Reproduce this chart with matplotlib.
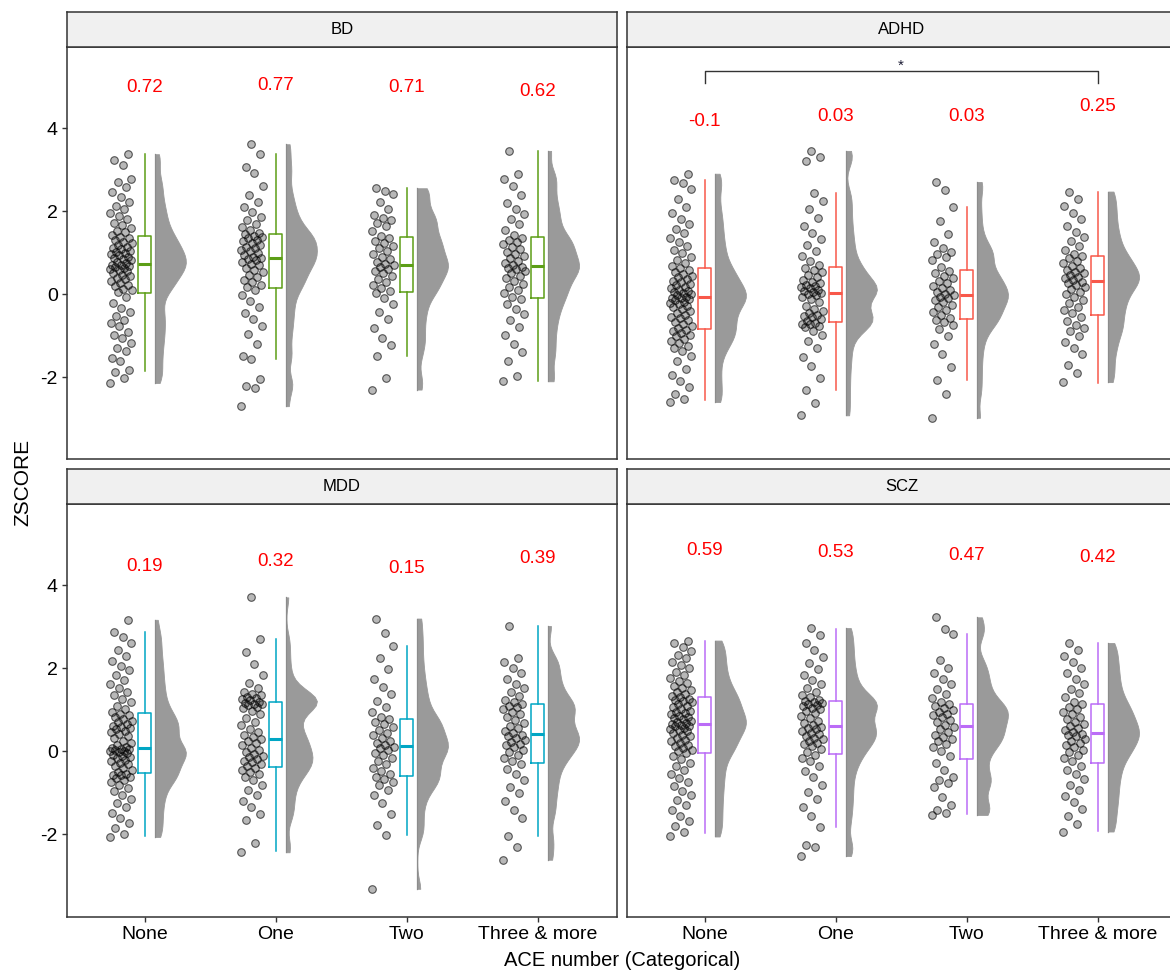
import numpy as np
import matplotlib
matplotlib.use('Agg')
import matplotlib.pyplot as plt

plt.rcParams['font.family'] = ['Liberation Sans', 'DejaVu Sans']
plt.rcParams['axes.unicode_minus'] = False

categories = ['None', 'One', 'Two', 'Three & more']
panels = ['BD', 'ADHD', 'MDD', 'SCZ']
colors = {'BD': '#5c9e16', 'ADHD': '#f8584a', 'MDD': '#00a6c4', 'SCZ': '#bb6cf7'}

# ---- individual z-scores ----
bd_none = [-2.14, -2.02, -1.88, -1.84, -1.62, -1.55, -1.38, -1.31, -1.17, -1.06, -0.98, -0.91, -0.77, -0.69,
           -0.63, -0.52, -0.44, -0.33, -0.21, -0.08, 0.04, 0.09, 0.12, 0.19, 0.21, 0.27, 0.31, 0.36, 0.38,
           0.43, 0.47, 0.52, 0.55, 0.58, 0.61, 0.64, 0.66, 0.68, 0.70, 0.71, 0.74, 0.78, 0.81, 0.85, 0.87,
           0.90, 0.93, 0.97, 0.99, 1.02, 1.04, 1.08, 1.11, 1.14, 1.19, 1.23, 1.26, 1.31, 1.35, 1.38, 1.42,
           1.49, 1.52, 1.60, 1.67, 1.72, 1.81, 1.88, 1.96, 2.04, 2.13, 2.21, 2.33, 2.46, 2.58, 2.69, 2.78,
           3.10, 3.24, 3.37]
bd_one = [-2.70, -2.27, -2.21, -2.05, -1.57, -1.48, -1.20, -0.95, -0.78, -0.60, -0.45, -0.30, -0.16, -0.02,
          0.10, 0.17, 0.22, 0.29, 0.34, 0.41, 0.47, 0.53, 0.58, 0.63, 0.69, 0.73, 0.77, 0.81, 0.84, 0.87,
          0.90, 0.95, 0.99, 1.03, 1.07, 1.10, 1.14, 1.18, 1.22, 1.27, 1.30, 1.34, 1.38, 1.41, 1.44, 1.48,
          1.55, 1.61, 1.70, 1.78, 1.86, 1.97, 2.10, 2.23, 2.38, 2.60, 2.92, 3.05, 3.37, 3.61]
bd_two = [-2.30, -2.02, -1.50, -1.22, -1.05, -0.82, -0.60, -0.42, -0.25, -0.10, 0.02, 0.08, 0.15, 0.22,
          0.30, 0.36, 0.43, 0.50, 0.56, 0.61, 0.65, 0.69, 0.72, 0.78, 0.84, 0.90, 0.97, 1.03, 1.10, 1.17,
          1.23, 1.29, 1.35, 1.40, 1.52, 1.63, 1.72, 1.78, 1.84, 1.90, 2.05, 2.22, 2.40, 2.48, 2.55]
bd_three = [-2.10, -1.98, -1.60, -1.40, -1.20, -0.98, -0.80, -0.62, -0.48, -0.35, -0.24, -0.12, -0.07, 0.02,
            0.10, 0.17, 0.24, 0.31, 0.38, 0.44, 0.50, 0.55, 0.60, 0.63, 0.66, 0.69, 0.74, 0.80, 0.86, 0.91,
            0.97, 1.02, 1.08, 1.14, 1.20, 1.26, 1.31, 1.36, 1.42, 1.55, 1.68, 1.80, 1.93, 2.05, 2.20, 2.38,
            2.60, 2.78, 2.90, 3.45]

adhd_none = [-2.60, -2.52, -2.40, -2.25, -2.10, -1.95, -1.80, -1.62, -1.50, -1.38, -1.30, -1.24, -1.18, -1.12,
             -1.07, -1.02, -0.98, -0.94, -0.90, -0.86, -0.82, -0.77, -0.72, -0.68, -0.63, -0.58, -0.54, -0.50,
             -0.45, -0.40, -0.36, -0.32, -0.28, -0.25, -0.21, -0.18, -0.15, -0.12, -0.10, -0.09, -0.06, -0.03,
             0.00, 0.02, 0.05, 0.08, 0.11, 0.14, 0.17, 0.21, 0.24, 0.28, 0.32, 0.36, 0.40, 0.44, 0.49, 0.53,
             0.58, 0.62, 0.67, 0.74, 0.82, 0.90, 0.98, 1.07, 1.16, 1.25, 1.36, 1.47, 1.58, 1.70, 1.82, 1.95,
             2.10, 2.30, 2.52, 2.68, 2.75, 2.90]
adhd_one = [-2.92, -2.62, -2.31, -2.02, -1.74, -1.52, -1.31, -1.12, -0.98, -0.88, -0.80, -0.76, -0.73, -0.71,
            -0.69, -0.64, -0.60, -0.56, -0.53, -0.50, -0.46, -0.41, -0.35, -0.28, -0.20, -0.13, -0.07, -0.03,
            0.00, 0.02, 0.05, 0.08, 0.11, 0.14, 0.17, 0.19, 0.22, 0.26, 0.30, 0.35, 0.41, 0.47, 0.53, 0.59,
            0.64, 0.70, 0.80, 0.92, 1.05, 1.18, 1.32, 1.48, 1.65, 1.84, 2.05, 2.25, 2.44, 3.20, 3.30, 3.45]
adhd_two = [-2.98, -2.40, -2.07, -1.75, -1.45, -1.20, -1.00, -0.85, -0.75, -0.68, -0.62, -0.57, -0.50, -0.44,
            -0.38, -0.32, -0.26, -0.20, -0.15, -0.10, -0.06, -0.03, 0.00, 0.05, 0.10, 0.15, 0.20, 0.26, 0.32,
            0.38, 0.44, 0.50, 0.56, 0.65, 0.82, 0.90, 0.96, 1.02, 1.10, 1.25, 1.45, 1.75, 2.09, 2.50, 2.70]
adhd_three = [-2.12, -1.90, -1.70, -1.45, -1.30, -1.15, -1.00, -0.90, -0.82, -0.74, -0.65, -0.55, -0.45, -0.38,
              -0.30, -0.22, -0.14, -0.07, 0.00, 0.06, 0.12, 0.18, 0.23, 0.27, 0.30, 0.34, 0.38, 0.42, 0.46,
              0.50, 0.54, 0.58, 0.63, 0.68, 0.74, 0.80, 0.86, 0.91, 0.97, 1.06, 1.16, 1.27, 1.38, 1.50, 1.64,
              1.80, 1.96, 2.12, 2.30, 2.47]

mdd_none = [-2.06, -1.98, -1.85, -1.72, -1.60, -1.48, -1.35, -1.25, -1.15, -1.05, -0.96, -0.88, -0.80, -0.74,
            -0.68, -0.64, -0.61, -0.58, -0.56, -0.54, -0.50, -0.45, -0.40, -0.35, -0.31, -0.27, -0.23, -0.20,
            -0.17, -0.14, -0.11, -0.08, -0.05, -0.02, 0.00, 0.02, 0.04, 0.05, 0.06, 0.07, 0.10, 0.15, 0.20,
            0.26, 0.32, 0.38, 0.43, 0.47, 0.50, 0.53, 0.56, 0.59, 0.62, 0.66, 0.70, 0.74, 0.79, 0.83, 0.87,
            0.91, 0.96, 1.03, 1.10, 1.18, 1.26, 1.35, 1.44, 1.53, 1.63, 1.73, 1.84, 1.95, 2.06, 2.18, 2.30,
            2.45, 2.60, 2.75, 2.87, 3.17]
mdd_one = [-2.43, -2.20, -1.65, -1.50, -1.35, -1.20, -1.05, -0.92, -0.80, -0.70, -0.62, -0.55, -0.49, -0.44,
           -0.40, -0.35, -0.30, -0.26, -0.22, -0.18, -0.14, -0.10, -0.06, -0.02, 0.03, 0.09, 0.15, 0.20, 0.25,
           0.29, 0.34, 0.40, 0.47, 0.55, 0.63, 0.72, 0.81, 0.90, 0.98, 1.04, 1.08, 1.11, 1.13, 1.15, 1.17,
           1.20, 1.23, 1.26, 1.29, 1.32, 1.35, 1.39, 1.44, 1.52, 1.65, 1.85, 2.10, 2.40, 2.70, 3.71]
mdd_two = [-3.31, -2.01, -1.78, -1.50, -1.25, -1.05, -0.92, -0.82, -0.74, -0.67, -0.62, -0.55, -0.47, -0.39,
           -0.31, -0.23, -0.16, -0.09, -0.03, 0.03, 0.08, 0.11, 0.15, 0.20, 0.26, 0.32, 0.39, 0.45, 0.52,
           0.58, 0.65, 0.71, 0.77, 0.84, 0.95, 1.08, 1.22, 1.38, 1.55, 1.75, 1.98, 2.25, 2.55, 2.85, 3.20]
mdd_three = [-2.61, -2.30, -2.04, -1.60, -1.40, -1.20, -1.00, -0.85, -0.70, -0.55, -0.42, -0.31, -0.22, -0.15,
             -0.08, -0.02, 0.04, 0.10, 0.15, 0.19, 0.23, 0.28, 0.32, 0.36, 0.40, 0.45, 0.50, 0.56, 0.62, 0.69,
             0.76, 0.83, 0.90, 0.96, 1.01, 1.06, 1.10, 1.13, 1.18, 1.25, 1.33, 1.42, 1.52, 1.63, 1.75, 1.88,
             2.02, 2.15, 2.25, 3.02]

scz_none = [-2.05, -1.93, -1.80, -1.68, -1.55, -1.42, -1.30, -1.18, -1.06, -0.95, -0.84, -0.74, -0.64, -0.54,
            -0.45, -0.36, -0.27, -0.18, -0.11, -0.05, 0.00, 0.04, 0.08, 0.12, 0.16, 0.20, 0.24, 0.28, 0.32,
            0.36, 0.40, 0.44, 0.48, 0.51, 0.54, 0.57, 0.60, 0.62, 0.64, 0.65, 0.68, 0.71, 0.74, 0.77, 0.80,
            0.83, 0.86, 0.89, 0.92, 0.95, 0.98, 1.02, 1.06, 1.10, 1.14, 1.18, 1.21, 1.24, 1.27, 1.30, 1.34,
            1.38, 1.43, 1.48, 1.53, 1.58, 1.64, 1.70, 1.77, 1.84, 1.92, 2.00, 2.08, 2.16, 2.25, 2.33, 2.42,
            2.52, 2.60, 2.67]
scz_one = [-2.52, -2.30, -2.26, -1.81, -1.55, -1.35, -1.15, -0.98, -0.80, -0.62, -0.48, -0.35, -0.24, -0.15,
           -0.09, -0.02, 0.05, 0.12, 0.17, 0.21, 0.25, 0.29, 0.33, 0.37, 0.41, 0.45, 0.49, 0.53, 0.56, 0.59,
           0.63, 0.68, 0.74, 0.80, 0.86, 0.92, 0.97, 1.01, 1.05, 1.09, 1.12, 1.15, 1.17, 1.19, 1.21, 1.25,
           1.30, 1.36, 1.44, 1.52, 1.62, 1.73, 1.85, 1.98, 2.12, 2.28, 2.45, 2.60, 2.80, 2.97]
scz_two = [-1.53, -1.48, -1.40, -1.30, -1.10, -0.85, -0.76, -0.70, -0.62, -0.45, -0.28, -0.12, 0.00, 0.10,
           0.18, 0.24, 0.29, 0.34, 0.40, 0.47, 0.53, 0.58, 0.63, 0.70, 0.76, 0.82, 0.87, 0.91, 0.95, 0.99,
           1.04, 1.09, 1.13, 1.20, 1.28, 1.38, 1.50, 1.62, 1.75, 1.88, 2.02, 2.20, 2.83, 2.95, 3.23]
scz_three = [-1.93, -1.75, -1.55, -1.38, -1.22, -1.08, -0.94, -0.80, -0.67, -0.55, -0.44, -0.34, -0.22, -0.15,
             -0.08, -0.02, 0.04, 0.10, 0.16, 0.21, 0.26, 0.31, 0.36, 0.40, 0.43, 0.47, 0.52, 0.57, 0.62, 0.67,
             0.72, 0.77, 0.83, 0.89, 0.95, 1.01, 1.07, 1.13, 1.20, 1.30, 1.40, 1.50, 1.62, 1.75, 1.88, 2.00,
             2.15, 2.30, 2.45, 2.61]

points = {
    'BD': [bd_none, bd_one, bd_two, bd_three],
    'ADHD': [adhd_none, adhd_one, adhd_two, adhd_three],
    'MDD': [mdd_none, mdd_one, mdd_two, mdd_three],
    'SCZ': [scz_none, scz_one, scz_two, scz_three],
}

# ---- box statistics per category (q1, median, q3, whisker low, whisker high) ----
bd_box = [[0.02, 0.72, 1.40, -1.86, 3.37], [0.15, 0.88, 1.45, -1.57, 3.37],
          [0.05, 0.70, 1.37, -1.50, 2.55], [-0.10, 0.67, 1.37, -2.10, 3.45]]
adhd_box = [[-0.85, -0.08, 0.63, -2.54, 2.75], [-0.67, 0.03, 0.65, -2.31, 2.44],
            [-0.60, -0.02, 0.58, -2.07, 2.09], [-0.50, 0.31, 0.92, -2.14, 2.47]]
mdd_box = [[-0.53, 0.08, 0.92, -2.04, 2.87], [-0.38, 0.30, 1.18, -2.41, 2.70],
           [-0.59, 0.12, 0.79, -2.01, 2.55], [-0.27, 0.41, 1.14, -2.04, 3.02]]
scz_box = [[-0.03, 0.66, 1.31, -1.97, 2.67], [-0.06, 0.60, 1.22, -1.81, 2.95],
           [-0.19, 0.60, 1.14, -1.51, 2.83], [-0.27, 0.44, 1.14, -1.91, 2.61]]
boxes = {'BD': bd_box, 'ADHD': adhd_box, 'MDD': mdd_box, 'SCZ': scz_box}

# ---- red value labels ----
bd_means = [0.72, 0.77, 0.71, 0.62]
adhd_means = [-0.1, 0.03, 0.03, 0.25]
mdd_means = [0.19, 0.32, 0.15, 0.39]
scz_means = [0.59, 0.53, 0.47, 0.42]
means = {'BD': bd_means, 'ADHD': adhd_means, 'MDD': mdd_means, 'SCZ': scz_means}

W, H = 1170, 975
fig = plt.figure(figsize=(W / 100, H / 100), dpi=100)


def rect(x0, ytop, w, h):
    return [x0 / W, 1 - (ytop + h) / H, w / W, h / H]


layout = {'BD': (67, 46.7), 'ADHD': (627, 46.7), 'MDD': (67, 504), 'SCZ': (627, 504)}
pw, ph, sh = 550, 412.6, 35
edge = '#333333'

for p in panels:
    x0, yt = layout[p]
    ax = fig.add_axes(rect(x0, yt, pw, ph))
    st = fig.add_axes(rect(x0, yt - sh, pw, sh))
    st.set_facecolor('#f0f0f0')
    st.set_xticks([])
    st.set_yticks([])
    for s in st.spines.values():
        s.set_color(edge)
        s.set_linewidth(1.1)
    st.text(0.5, 0.5, p, ha='center', va='center', fontsize=12, transform=st.transAxes)

    c = colors[p]
    for i, vals in enumerate(points[p]):
        x = i + 1
        v = np.array(vals)
        n = len(v)
        jit = ((np.arange(n) * 0.618034) % 1 - 0.5) * 0.17
        ax.scatter(x - 0.18 + jit, v, s=30, facecolor=(0, 0, 0, 0.28),
                   edgecolor=(0, 0, 0, 0.62), linewidths=0.8, zorder=2)

        # half violin (density of the points)
        grid = np.linspace(v.min(), v.max(), 60)
        dens = np.exp(-0.5 * ((grid[:, None] - v[None, :]) / 0.22) ** 2).sum(axis=1)
        wid = dens / dens.max() * 0.235
        ax.fill_betweenx(grid, x + 0.08, x + 0.08 + wid, color='#9a9a9a', lw=0.6,
                         edgecolor='#9a9a9a', zorder=1)
        ax.plot([x + 0.08, x + 0.08], [v.min(), v.max()], color='#8c8c8c', lw=0.9, zorder=1)

        q1, med, q3, lo, hi = boxes[p][i]
        ax.bxp([dict(q1=q1, med=med, q3=q3, whislo=lo, whishi=hi, fliers=[])],
               positions=[x], widths=0.1, showfliers=False, showcaps=False, manage_ticks=False,
               boxprops=dict(color=c, lw=1.1), whiskerprops=dict(color=c, lw=1.1),
               medianprops=dict(color=c, lw=2.2))

        m = means[p][i]
        ax.text(x, m + 4.26, f'{m:g}', color='red', ha='center', va='center', fontsize=13.5)

    if p == 'ADHD':
        ax.plot([1, 1, 4, 4], [5.08, 5.37, 5.37, 5.08], color=edge, lw=1.0)
        ax.text(2.5, 5.5, '*', ha='center', va='center', fontsize=11, color='#1a1a33')

    ax.set_xlim(0.408, 4.605)
    ax.set_ylim(-3.98, 5.96)
    for s in ax.spines.values():
        s.set_color(edge)
        s.set_linewidth(1.1)
    ax.tick_params(length=3.5, width=1, color=edge, labelsize=14, pad=3, labelcolor='black')
    if p in ('BD', 'MDD'):
        ax.set_yticks([-2, 0, 2, 4])
        ax.set_yticklabels(['-2', '0', '2', '4'])
    else:
        ax.set_yticks([])
    if p in ('MDD', 'SCZ'):
        ax.set_xticks([1, 2, 3, 4])
        ax.set_xticklabels(categories)
    else:
        ax.set_xticks([])

fig.text(23 / W, 1 - 482 / H, 'ZSCORE', rotation=90, ha='center', va='center', fontsize=15)
fig.text(622 / W, 1 - 961 / H, 'ACE number (Categorical)', ha='center', va='center', fontsize=14.5)

fig.savefig('out.png', dpi=100)
